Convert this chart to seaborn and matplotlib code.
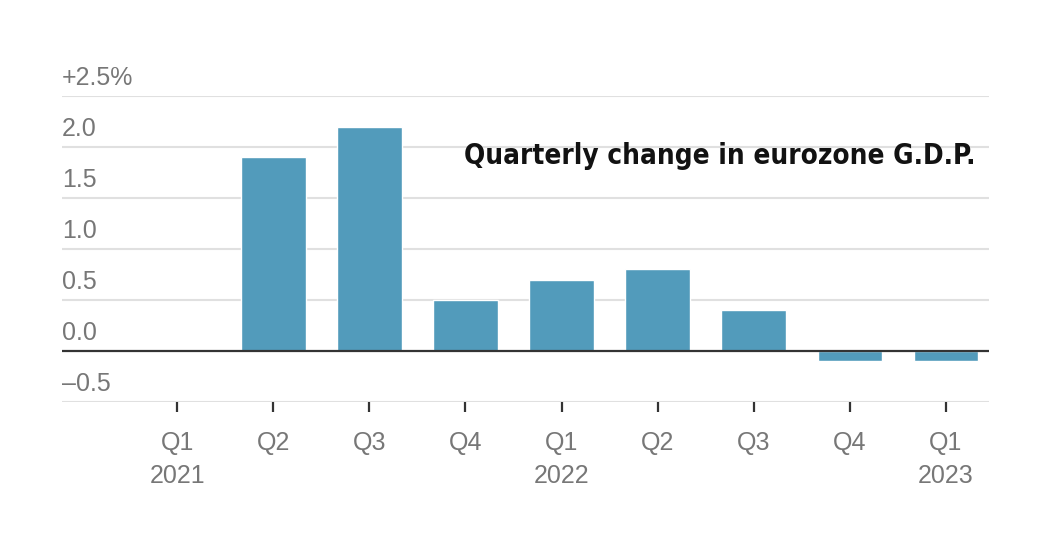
import matplotlib
matplotlib.use('Agg')
import matplotlib.pyplot as plt
import seaborn as sns
import pandas as pd

# quarterly change in eurozone GDP, percent
quarters = ['Q1', 'Q2', 'Q3', 'Q4', 'Q1', 'Q2', 'Q3', 'Q4', 'Q1']
years = ['2021', '', '', '', '2022', '', '', '', '2023']
change = [0.0, 1.9, 2.2, 0.5, 0.7, 0.8, 0.4, -0.1, -0.1]
y_ticks = [-0.5, 0.0, 0.5, 1.0, 1.5, 2.0, 2.5]
y_labels = ['\u20130.5', '0.0', '0.5', '1.0', '1.5', '2.0', '+2.5%']

tick_text = [f'{q}\n{y}' for q, y in zip(quarters, years)]
df = pd.DataFrame({'idx': [str(i) for i in range(len(change))], 'change': change})

sns.set_style('white')
plt.rcParams['font.family'] = ['Liberation Sans', 'DejaVu Sans']

fig = plt.figure(figsize=(10.5, 5.5), dpi=100)
ax = fig.add_axes([62 / 1050, 1 - 402 / 550, (989 - 62) / 1050, (402 - 96) / 550])

sns.barplot(data=df, x='idx', y='change', color='#529bbb', saturation=1,
            width=0.67, errorbar=None, ax=ax, zorder=3)

ax.set_xlim(-1.2, 8.45)
ax.set_ylim(-0.5, 2.5)

# gridlines with labels sitting on top of them
for v, lab in zip(y_ticks, y_labels):
    if v == 0:
        ax.axhline(v, color='#333333', lw=1.6, zorder=4)
    else:
        ax.axhline(v, color='#e0e0e0', lw=1.5, zorder=1)
    ax.text(0, v + 0.06, lab, transform=ax.get_yaxis_transform(),
            ha='left', va='bottom', fontsize=18, color='#777777')

ax.set_yticks([])
ax.set_xticks(range(len(change)))
ax.set_xticklabels(tick_text)
ax.set_xlabel('')
ax.set_ylabel('')
ax.tick_params(axis='x', length=7, width=1.6, color='#333333', pad=14,
               labelsize=18, labelcolor='#777777', bottom=True)
for t in ax.get_xticklabels():
    t.set_linespacing(1.45)
sns.despine(ax=ax, left=True, bottom=True)

ax.text(975 / 1050, 1 - 156 / 550, 'Quarterly change in eurozone G.D.P.',
        transform=fig.transFigure, ha='right', va='center', fontsize=20,
        fontweight='bold', fontstretch='condensed', color='#121212',
        family='DejaVu Sans')

fig.savefig('out.png', dpi=100)
